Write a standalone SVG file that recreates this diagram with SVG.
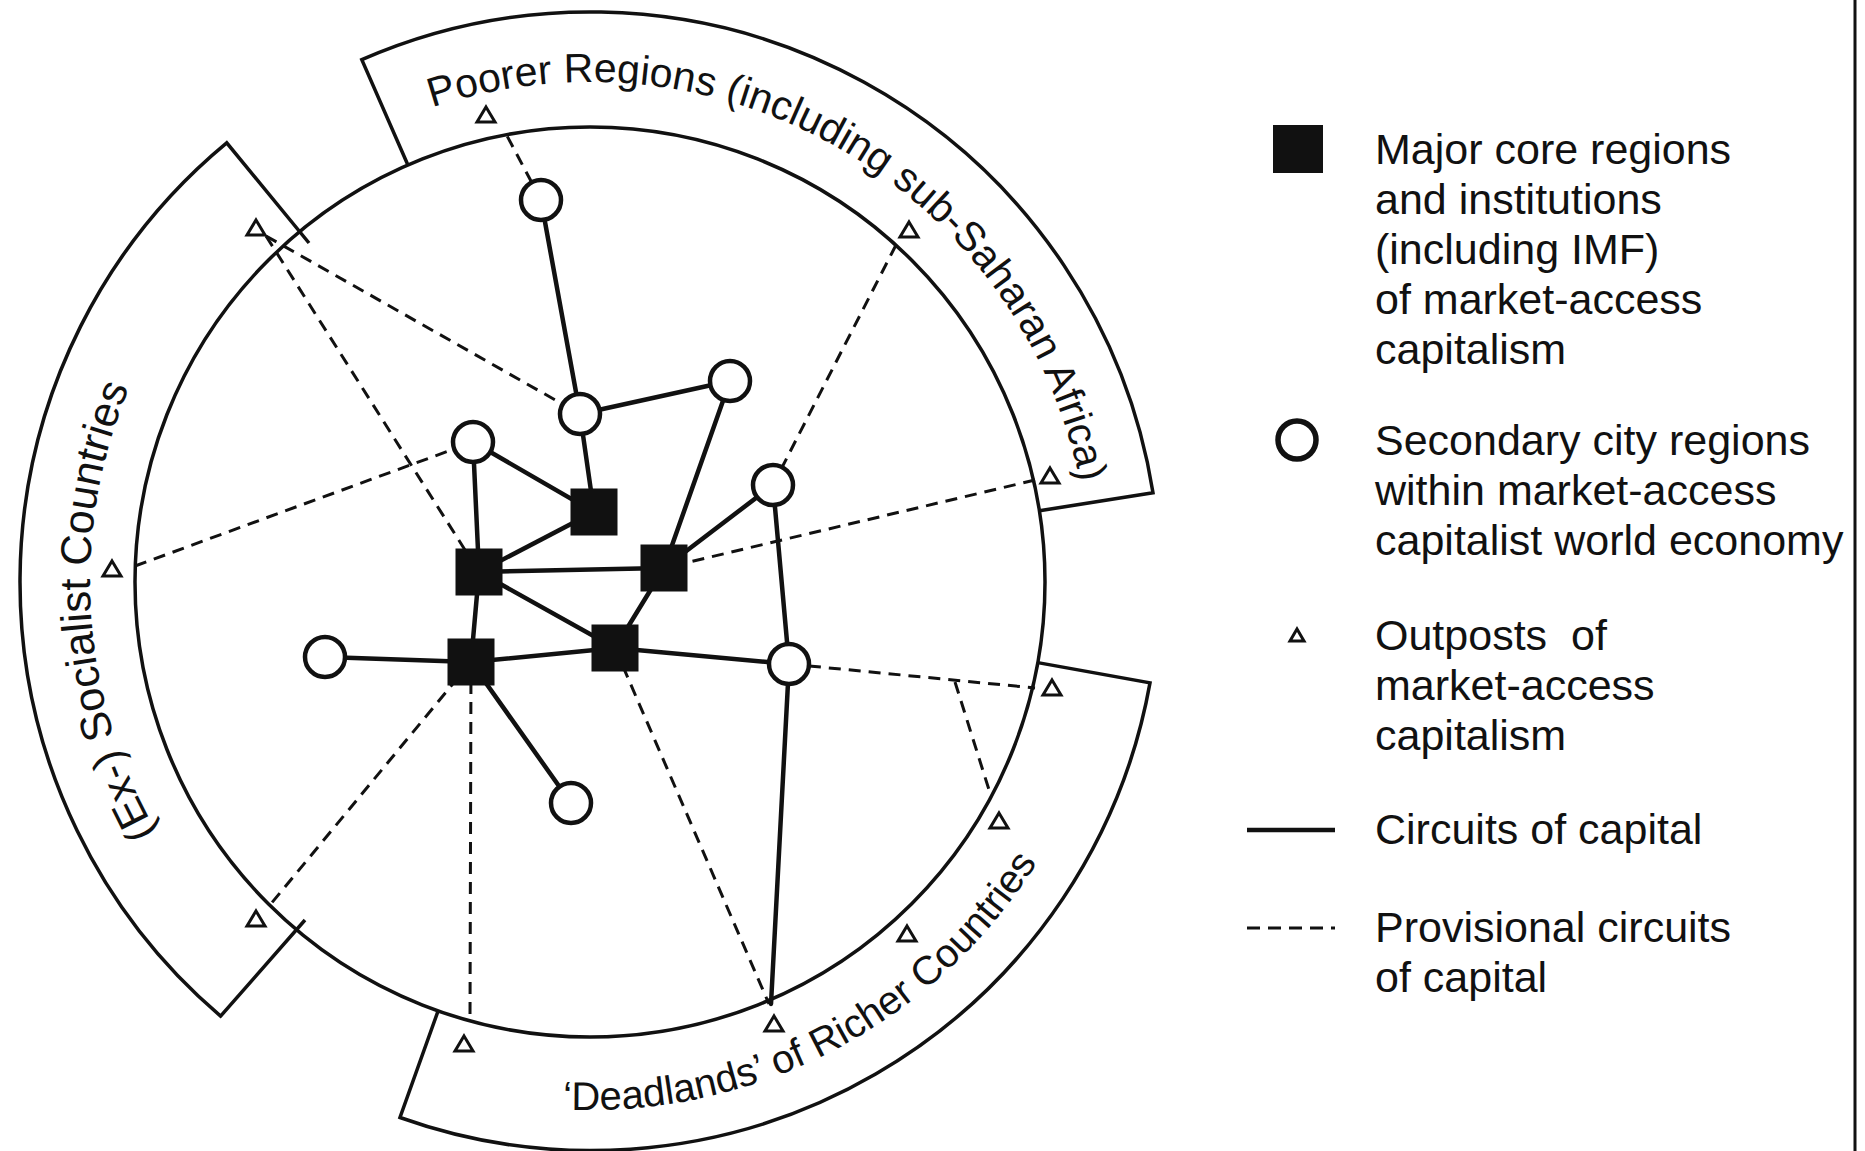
<svg xmlns="http://www.w3.org/2000/svg" xmlns:xlink="http://www.w3.org/1999/xlink" width="1865" height="1151" viewBox="0 0 1865 1151">
<style>
.band{fill:none;stroke:#111;stroke-width:3.5;stroke-linejoin:miter}
.ring{fill:none;stroke:#111;stroke-width:3.5}
.solid{stroke:#111;stroke-width:4.5;stroke-linecap:round;fill:none}
.dash{stroke:#111;stroke-width:3;stroke-dasharray:12 8;fill:none}
.sq{fill:#111}
.city{fill:#fff;stroke:#111;stroke-width:4.5}
.tri{fill:#fff;stroke:#111;stroke-width:3;stroke-linejoin:miter}
.arc{font-family:"Liberation Sans",Arial,Helvetica,sans-serif;fill:#111}
.leg{font-family:"Liberation Sans",Arial,Helvetica,sans-serif;font-size:43px;fill:#111}
</style>
<defs>
<path id="triShape" d="M0,-8 L9,7 L-9,7 Z"/>
<path id="pPoor" d="M432.2,107.5 A500,500 0 0 1 1088.1,538.4"/>
<path id="pDead" d="M562.4,1109.3 A528,528 0 0 0 1068.5,805.1"/>
<path id="pSoc" d="M157,832 A500,500 0 0 1 157,332"/>
</defs>
<rect width="1865" height="1151" fill="#fff"/>
<line x1="1855" y1="0" x2="1855" y2="1151" stroke="#111" stroke-width="3"/>

<g id="regions">
<circle class="ring" cx="590" cy="582" r="455"/>
<g id="band-poorer">
<path class="band" d="M407.9,165 L361.8,59.7 A570,570 0 0 1 1153,492.8 L1039.4,510.8"/>
<text class="arc" font-size="41"><textPath href="#pPoor">Poorer Regions (including sub-Saharan Africa)</textPath></text>
</g>
<g id="band-socialist">
<path class="band" d="M305,920 L220.6,1016.1 A570,570 0 0 1 226.7,142.8 L309,243"/>
<text class="arc" font-size="43"><textPath href="#pSoc">(Ex-) Socialist Countries</textPath></text>
</g>
<g id="band-deadlands">
<path class="band" d="M1037.8,662.6 L1150,682.9 A568,568 0 0 1 400,1117.5 L438.1,1010.9"/>
<text class="arc" font-size="40"><textPath href="#pDead">‘Deadlands’ of Richer Countries</textPath></text>
</g>
</g>

<g id="connectors">
<line class="solid" x1="541" y1="200" x2="580" y2="414"/>
<line class="solid" x1="580" y1="414" x2="730" y2="381"/>
<line class="solid" x1="580" y1="414" x2="594" y2="512"/>
<line class="solid" x1="730" y1="381" x2="664" y2="568"/>
<line class="solid" x1="473" y1="442" x2="594" y2="512"/>
<line class="solid" x1="473" y1="442" x2="479" y2="572"/>
<line class="solid" x1="594" y1="512" x2="479" y2="572"/>
<line class="solid" x1="479" y1="572" x2="664" y2="568"/>
<line class="solid" x1="479" y1="572" x2="615" y2="648"/>
<line class="solid" x1="479" y1="572" x2="471" y2="662"/>
<line class="solid" x1="664" y1="568" x2="615" y2="648"/>
<line class="solid" x1="664" y1="568" x2="773" y2="485"/>
<line class="solid" x1="773" y1="485" x2="789" y2="664"/>
<line class="solid" x1="471" y1="662" x2="325" y2="657"/>
<line class="solid" x1="471" y1="662" x2="615" y2="648"/>
<line class="solid" x1="615" y1="648" x2="789" y2="664"/>
<line class="solid" x1="471" y1="662" x2="571" y2="803"/>
<line class="solid" x1="789" y1="664" x2="771" y2="1004"/>

<line class="dash" x1="541" y1="200" x2="505" y2="132"/>
<line class="dash" x1="266" y1="236" x2="580" y2="414"/>
<line class="dash" x1="266" y1="236" x2="479" y2="572"/>
<line class="dash" x1="135" y1="566" x2="473" y2="442"/>
<line class="dash" x1="896" y1="245" x2="773" y2="485"/>
<line class="dash" x1="1035" y1="480" x2="664" y2="568"/>
<line class="dash" x1="471" y1="662" x2="270" y2="905"/>
<line class="dash" x1="471" y1="662" x2="470" y2="1021"/>
<line class="dash" x1="615" y1="648" x2="769" y2="1004"/>
<line class="dash" x1="789" y1="664" x2="1035" y2="688"/>
<line class="dash" x1="955" y1="682" x2="990" y2="793"/>
</g>

<g id="core-regions">
<rect id="core-1" class="sq" x="570.5" y="488.5" width="47" height="47"/>
<rect id="core-2" class="sq" x="455.5" y="548.5" width="47" height="47"/>
<rect id="core-3" class="sq" x="640.5" y="544.5" width="47" height="47"/>
<rect id="core-4" class="sq" x="591.5" y="624.5" width="47" height="47"/>
<rect id="core-5" class="sq" x="447.5" y="638.5" width="47" height="47"/>
</g>

<g id="secondary-cities">
<circle id="city-1" class="city" cx="541" cy="200" r="20"/>
<circle id="city-2" class="city" cx="580" cy="414" r="20"/>
<circle id="city-3" class="city" cx="730" cy="381" r="20"/>
<circle id="city-4" class="city" cx="473" cy="442" r="20"/>
<circle id="city-5" class="city" cx="773" cy="485" r="20"/>
<circle id="city-6" class="city" cx="325" cy="657" r="20"/>
<circle id="city-7" class="city" cx="789" cy="664" r="20"/>
<circle id="city-8" class="city" cx="571" cy="803" r="20"/>
</g>

<g id="outposts">
<use id="outpost-1" class="tri" href="#triShape" x="486" y="115"/>
<use id="outpost-2" class="tri" href="#triShape" x="909" y="230"/>
<use id="outpost-3" class="tri" href="#triShape" x="1050" y="476"/>
<use id="outpost-4" class="tri" href="#triShape" x="256" y="228"/>
<use id="outpost-5" class="tri" href="#triShape" x="112" y="569"/>
<use id="outpost-6" class="tri" href="#triShape" x="256" y="919"/>
<use id="outpost-7" class="tri" href="#triShape" x="464" y="1044"/>
<use id="outpost-8" class="tri" href="#triShape" x="774" y="1024"/>
<use id="outpost-9" class="tri" href="#triShape" x="907" y="934"/>
<use id="outpost-10" class="tri" href="#triShape" x="999" y="821"/>
<use id="outpost-11" class="tri" href="#triShape" x="1052" y="688"/>
</g>

<g id="legend">
<g id="legend-core">
<rect class="sq" x="1273" y="125" width="50" height="48"/>
<text class="leg" x="1375" y="164">Major core regions</text>
<text class="leg" x="1375" y="214">and institutions</text>
<text class="leg" x="1375" y="264">(including IMF)</text>
<text class="leg" x="1375" y="314">of market-access</text>
<text class="leg" x="1375" y="364">capitalism</text>
</g>
<g id="legend-city">
<circle cx="1297" cy="440" r="19" fill="#fff" stroke="#111" stroke-width="5.5"/>
<text class="leg" x="1375" y="455">Secondary city regions</text>
<text class="leg" x="1375" y="505">within market-access</text>
<text class="leg" x="1375" y="555">capitalist world economy</text>
</g>
<g id="legend-outpost">
<path class="tri" d="M1297,629 L1304,641 L1290,641 Z" stroke-width="2.5"/>
<text class="leg" x="1375" y="650" xml:space="preserve">Outposts  of</text>
<text class="leg" x="1375" y="700">market-access</text>
<text class="leg" x="1375" y="750">capitalism</text>
</g>
<g id="legend-circuit">
<line x1="1247" y1="830" x2="1335" y2="830" stroke="#111" stroke-width="4.5"/>
<text class="leg" x="1375" y="844">Circuits of capital</text>
</g>
<g id="legend-provisional">
<line x1="1247" y1="928" x2="1335" y2="928" stroke="#111" stroke-width="3" stroke-dasharray="13 8"/>
<text class="leg" x="1375" y="942">Provisional circuits</text>
<text class="leg" x="1375" y="992">of capital</text>
</g>
</g>
</svg>
